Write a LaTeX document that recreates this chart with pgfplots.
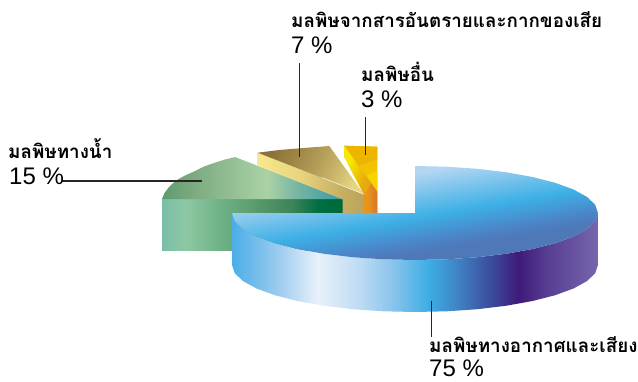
\documentclass[border=0pt]{standalone}
\usepackage{fontspec}
\usepackage{pgfplots}
\pgfplotsset{compat=1.18}
\setmainfont{Liberation Sans}
\newfontfamily\thaifont[Script=Thai]{Loma}

\newcommand\hx[2]{\definecolor{#1}{HTML}{#2}}
% air-and-noise slice: side wall
\hx{ba}{4AAEE8}\hx{bb}{9CCBEE}\hx{bc}{E8F1FB}\hx{bd}{C0DCF4}\hx{be}{8AC4EC}\hx{bf}{3DAEE4}
\hx{bg}{3F82C4}\hx{bh}{3C4A9A}\hx{bi}{3E1A7A}\hx{bj}{563C90}\hx{bk}{7566AE}
\pgfdeclarehorizontalshading{bluewall}{100bp}{color(0bp)=(ba);color(25bp)=(ba);color(31.3bp)=(bb);
 color(36.7bp)=(bc);color(42.2bp)=(bd);color(46.9bp)=(be);color(51.8bp)=(bf);color(55.9bp)=(bg);
 color(60.5bp)=(bh);color(64.1bp)=(bi);color(67.8bp)=(bj);color(75bp)=(bk);color(100bp)=(bk)}
% air-and-noise slice: top face
\hx{ta}{B5D6F2}\hx{tb}{3DB0E6}\hx{tc}{4A85C8}\hx{td}{4F78B8}
\pgfdeclarehorizontalshading{bluetop}{100bp}{color(0bp)=(ta);color(35bp)=(ta);color(51.6bp)=(tb);
 color(60.9bp)=(tc);color(64.8bp)=(td);color(100bp)=(td)}
% water slice
\hx{ga}{7ABDA8}\hx{gb}{8CC8A4}\hx{gc}{6BAF82}\hx{gd}{5E9E70}\hx{ge}{3B8358}\hx{gf}{006F42}\hx{gg}{006838}
\pgfdeclarehorizontalshading{greenwall}{100bp}{color(0bp)=(ga);color(25bp)=(ga);color(31.4bp)=(gb);
 color(42.4bp)=(gc);color(49.3bp)=(gd);color(61.2bp)=(ge);color(67.8bp)=(gf);color(75bp)=(gg);color(100bp)=(gg)}
\hx{ha}{5F9A6F}\hx{hb}{7BAB7F}\hx{hc}{95C096}\hx{hd}{AAD2A4}\hx{he}{72B3A2}\hx{hf}{45A0A9}\hx{hg}{3F9FA8}
\pgfdeclarehorizontalshading{greentop}{100bp}{color(0bp)=(ha);color(25bp)=(ha);color(33.6bp)=(hb);
 color(44.6bp)=(hc);color(54bp)=(hd);color(63.1bp)=(he);color(72.2bp)=(hf);color(75bp)=(hg);color(100bp)=(hg)}
% hazardous waste slice
\hx{ia}{8D7238}\hx{ib}{A08848}\hx{ic}{B5A05A}\hx{id}{CDBB6E}\hx{ie}{E4D682}
\pgfdeclarehorizontalshading{tantop}{100bp}{color(0bp)=(ia);color(26bp)=(ia);color(40bp)=(ib);
 color(53bp)=(ic);color(65bp)=(id);color(75bp)=(ie);color(100bp)=(ie)}
\hx{ja}{F8E890}\hx{jb}{E8D47E}\hx{jc}{C4AC60}\hx{jd}{BBA45C}
\pgfdeclarehorizontalshading{tanwall}{100bp}{color(0bp)=(ja);color(25bp)=(ja);color(45bp)=(jb);
 color(66bp)=(jc);color(75bp)=(jd);color(100bp)=(jd)}
% other slice
\hx{ka}{F7EA00}\hx{kb}{EFC800}\hx{kc}{E8A80F}
\pgfdeclarehorizontalshading{yellowface}{100bp}{color(0bp)=(ka);color(32bp)=(ka);color(50bp)=(kb);
 color(66bp)=(kc);color(100bp)=(kc)}
\hx{la}{E8951A}\hx{lb}{D8762A}
\pgfdeclarehorizontalshading{orangeface}{100bp}{color(0bp)=(la);color(35bp)=(la);color(75bp)=(lb);color(100bp)=(lb)}
\hx{ma}{EDB500}\hx{mb}{F3C200}\hx{mc}{F8D400}

\begin{document}
\begin{tikzpicture}
\path[use as bounding box] (0,0) rectangle (638pt,381pt);
\begin{axis}[
  at={(0,0)}, anchor=south west,
  scale only axis, width=638pt, height=381pt,
  xmin=0, xmax=638, ymin=0, ymax=381, y dir=reverse,
  hide axis, clip=false,
  every axis plot/.append style={draw=none},
]
% water slice
\addplot[shading=greenwall] coordinates {(162,199)(343,199)(343,250.5)(162,250.5)} --cycle;
\addplot[shading=greentop] coordinates {(162,199)(164.5,193)(169,187)(176,180.5)(185,175.5)(194,171.5)(204,166.5)(214,163)(225,159.5)(235,157)(343,199)} --cycle;
% hazardous waste slice
\addplot[shading=tanwall] coordinates {(257.7,152.7)(364,194.3)(364,213)(342.7,213)(342.7,199.3)(257.7,165.6)} --cycle;
\addplot[shading=tantop,shading angle=-25] coordinates {(257.7,152.7)(279,150)(300,148.3)(329.3,146)(364,194.3)} --cycle;
\addplot[draw=white,line width=0.5pt,opacity=0.8] coordinates {(322,177.6)(364,194.3)};
% other slice
\addplot[fill=mb] coordinates {(344.3,145.7)(377.3,146.7)(377.3,213)(364.3,213)(364.3,195)(344.3,157)} --cycle;
\addplot[fill=ma] coordinates {(344.3,145.7)(377.3,146.7)(377.3,159.3)(358.3,165.7)} --cycle;
\addplot[fill=mc] coordinates {(366.7,175)(377.3,170.7)(377.3,191.7)} --cycle;
\addplot[shading=yellowface,shading angle=-20] coordinates {(344.3,145.7)(358.3,165.7)(371,183)(364.3,195)(344.3,157)} --cycle;
\addplot[shading=orangeface] coordinates {(364.3,195)(371,183)(377.3,191.7)(377.3,213)(364.3,213)} --cycle;
% air-and-noise slice
\addplot[shading=bluewall] coordinates {(598,213)(595.2,221.2)(587,229.1)(573.5,236.5)(555.2,243.2)(532.6,249)(506.5,253.7)(477.6,257.2)(446.8,259.3)(415,260)(383.2,259.3)(352.4,257.2)(323.5,253.7)(297.4,249)(274.8,243.2)(256.5,236.5)(243,229.1)(234.8,221.2)(232,213)
 (232,265)(234.8,273.2)(243,281.1)(256.5,288.5)(274.8,295.2)(297.4,301)(323.5,305.7)(352.4,309.2)(383.2,311.3)(415,312)(446.8,311.3)(477.6,309.2)(506.5,305.7)(532.6,301)(555.2,295.2)(573.5,288.5)(587,281.1)(595.2,273.2)(598,265)} --cycle;
\addplot[shading=bluetop,shading angle=-80.4] coordinates {(415,166)(446.8,166.7)(477.6,168.8)(506.5,172.3)(532.6,177)(555.2,182.8)(573.5,189.5)(587,196.9)(595.2,204.8)(598,213)(595.2,221.2)(587,229.1)(573.5,236.5)(555.2,243.2)(532.6,249)(506.5,253.7)(477.6,257.2)(446.8,259.3)(415,260)(383.2,259.3)(352.4,257.2)(323.5,253.7)(297.4,249)(274.8,243.2)(256.5,236.5)(243,229.1)(234.8,221.2)(232,213)(415,213)} --cycle;
% leader lines
\addplot[draw=black!85,line width=1.1pt] coordinates {(299.5,63)(299.5,157)};
\addplot[draw=black!85,line width=1.1pt] coordinates {(365.5,117)(365.5,155)};
\addplot[draw=black!85,line width=1.1pt] coordinates {(62,181)(202,181)};
\addplot[draw=black!85,line width=1.1pt] coordinates {(431.5,300.5)(431.5,337)};
% labels
\tikzset{thl/.style={anchor=base west,inner sep=0pt,font=\thaifont\bfseries\fontsize{18.8}{19}\selectfont},
         num/.style={anchor=base west,inner sep=0pt,font=\fontsize{24}{25}\selectfont}}
\node[thl] at (axis cs:291,27) {มลพิษจากสารอันตรายและกากของเสีย};
\node[num] at (axis cs:291,53) {7 \%};
\node[thl] at (axis cs:361,81) {มลพิษอื่น};
\node[num] at (axis cs:361,107) {3 \%};
\node[thl] at (axis cs:8,158) {มลพิษทางน้ำ};
\node[num] at (axis cs:9,184) {15 \%};
\node[thl] at (axis cs:429,352.5) {มลพิษทางอากาศและเสียง};
\node[num] at (axis cs:429,376) {75 \%};
\end{axis}
\end{tikzpicture}
\end{document}
